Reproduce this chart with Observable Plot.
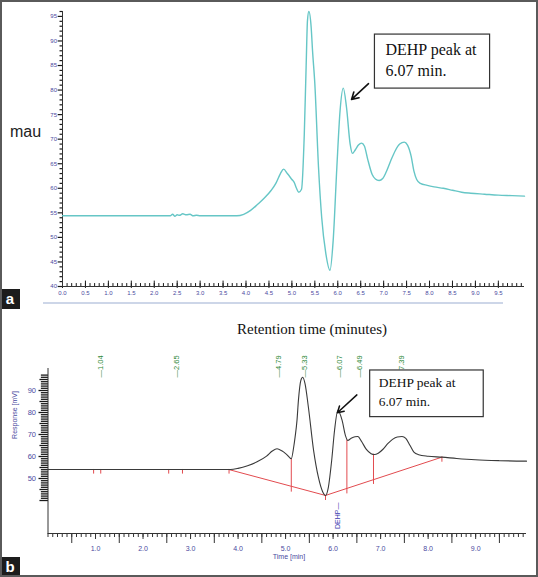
<!DOCTYPE html>
<html><head><meta charset="utf-8">
<script src="https://cdn.jsdelivr.net/npm/d3@7"></script>
<script src="https://cdn.jsdelivr.net/npm/@observablehq/plot@0.6"></script>
<style>
body{margin:0;background:#fff;}
#fig{position:relative;width:538px;height:577px;overflow:hidden;background:#fff;font-family:"Liberation Sans",Arial,sans-serif;}
#fig svg{position:absolute;left:0;}
.abs{position:absolute;white-space:nowrap;}
.tag{position:absolute;left:0;width:20px;height:20px;background:#1c1c1c;color:#fff;font:bold 15px "Liberation Sans",Arial,sans-serif;text-align:center;line-height:19px;}
</style></head><body>
<div id="fig"></div>
<script>
// ---------- Panel a (UV detector, mAU) ----------
const aTime = [0, 2.35, 2.4, 2.45, 2.5, 2.55, 2.62, 2.7, 2.78, 2.85, 2.92, 3.0, 3.8, 3.95, 4.1, 4.25, 4.4, 4.55, 4.65, 4.75, 4.82, 4.9, 5.0, 5.05, 5.1, 5.15, 5.21, 5.27, 5.31, 5.34, 5.37, 5.42, 5.45, 5.50, 5.58, 5.65, 5.74, 5.83, 5.90, 5.98, 6.05, 6.12, 6.19, 6.27, 6.32, 6.38, 6.45, 6.52, 6.58, 6.65, 6.75, 6.82, 6.9, 6.98, 7.05, 7.15, 7.25, 7.35, 7.45, 7.52, 7.6, 7.66, 7.72, 7.8, 7.95, 8.1, 8.3, 8.5, 8.7, 8.9, 9.2, 9.5, 9.8, 10.07];
const aMau = [54.4, 54.4, 54.7, 54.3, 54.6, 54.5, 54.8, 54.6, 54.7, 54.4, 54.5, 54.4, 54.4, 54.7, 55.5, 56.7, 58.0, 59.6, 61.0, 63.0, 63.9, 63.0, 61.8, 61.2, 60.0, 59.2, 59.8, 71, 84.7, 94.2, 96.0, 92.8, 88, 81.3, 64.3, 54, 46.7, 43.3, 49.4, 64.3, 75.8, 80.4, 76.5, 69, 67.1, 67.8, 68.8, 69.2, 68.6, 66.0, 62.8, 61.9, 61.6, 62.0, 63.2, 65.5, 67.6, 69.0, 69.4, 68.8, 66.5, 63.5, 61.8, 61.0, 60.6, 60.3, 60.0, 59.6, 59.2, 59.0, 58.8, 58.6, 58.5, 58.4];
const aXTicks = [0, 0.5, 1, 1.5, 2, 2.5, 3, 3.5, 4, 4.5, 5, 5.5, 6, 6.5, 7, 7.5, 8, 8.5, 9, 9.5];
const aYTicks = [40, 45, 50, 55, 60, 65, 70, 75, 80, 85, 90, 95];
const aNoteBox = [{x1: 6.81, x2: 9.32, y1: 80.3, y2: 91.3}];
const aNoteLines = ["DEHP peak at", "6.07 min."];
const aNoteX = [7.04, 7.04];
const aNoteY = [88.1, 84.0];
const aArrow = [{x1: 6.67, y1: 81.3, x2: 6.30, y2: 78.1}];

// ---------- Panel b (integrated chromatogram, mV) ----------
const bTime = [0, 3.84, 4.0, 4.2, 4.4, 4.6, 4.72, 4.82, 4.92, 5.02, 5.12, 5.17, 5.20, 5.24, 5.27, 5.32, 5.36, 5.41, 5.48, 5.59, 5.69, 5.78, 5.84, 5.90, 5.97, 6.03, 6.10, 6.19, 6.26, 6.31, 6.38, 6.46, 6.52, 6.6, 6.7, 6.8, 6.87, 6.95, 7.05, 7.15, 7.25, 7.35, 7.45, 7.53, 7.62, 7.7, 7.8, 8.0, 8.29, 8.6, 8.99, 9.5, 10.07];
const bResp = [54.1, 54.1, 54.6, 55.8, 57.6, 60.2, 62.5, 63.5, 62.6, 61.0, 59.0, 64.2, 68.8, 76.4, 85.5, 94.5, 96.0, 93.0, 82.4, 62.7, 50.6, 44.0, 42.3, 46.0, 58.2, 71.8, 80.9, 76.4, 69.5, 67.3, 68.3, 69.0, 69.1, 66.8, 63.2, 61.3, 60.9, 61.5, 63.3, 65.8, 67.8, 68.9, 69.1, 68.2, 65.0, 62.0, 60.8, 60.1, 59.7, 59.1, 58.5, 58.1, 57.9];
const bRetention = [1.04, 2.65, 4.79, 5.33, 6.07, 6.49, 7.39];
const bBaseTime = [3.80, 5.84, 8.29];
const bBaseResp = [54.1, 42.3, 59.7];
const bDropTime = [5.12, 6.29, 6.85, 5.84, 8.29];
const bDropTop = [59.0, 67.5, 61.0, 42.3, 59.7];
const bDropBottom = [43.8, 43.0, 47.3, 40.0, 57.4];
const bMarkTime = [0.96, 1.11, 2.54, 2.83, 3.81];
const bXTicks = [1, 2, 3, 4, 5, 6, 7, 8, 9];
const bYTicks = [50, 60, 70, 80, 90];
const bNoteBox = [{x1: 6.78, x2: 9.17, y1: 77.9, y2: 99.1}];
const bNoteLines = ["DEHP peak at", "6.07 min."];
const bNoteX = [6.96, 6.96];
const bNoteY = [93.5, 85.1];
const bArrow = [{x1: 6.50, y1: 88.0, x2: 6.09, y2: 79.9}];
const bCompound = [{t: 6.09, v: 39.1, name: "DEHP—"}];

const fig = document.getElementById("fig");
const blue = "#4a4aa0";
const serif = "'Liberation Serif','Times New Roman',serif";

// tick helper rows: value + left end (in minutes, left of the y axis)
const aYMinor = d3.range(40, 96.5, 1).map(v => ({v, x1: aYTicks.includes(v) ? -0.105 : -0.065}));
const bYMinor = d3.range(40, 98, 1).map(v => ({v, x1: bYTicks.includes(v) ? -0.2 : (v % 5 === 0 ? -0.18 : -0.15)}));

const aData = aTime.map((t, i) => ({t, v: aMau[i]}));
const plotA = Plot.plot({
  width: 538, height: 300,
  marginLeft: 62, marginRight: 14, marginTop: 11, marginBottom: 14,
  x: {domain: [0, 10.07]}, y: {domain: [40, 96]},
  style: {fontFamily: "'Liberation Sans',Arial,sans-serif", background: "transparent"},
  marks: [
    Plot.link(aYMinor, {x1: "x1", x2: () => 0, y1: "v", y2: "v", stroke: "#1a1a1a", strokeWidth: 1.2}),
    Plot.axisY({ticks: aYTicks, tickSize: 0, tickPadding: 5.5, fill: blue, fontSize: 6, label: null}),
    Plot.ruleX(d3.range(0, 10.05, 0.1), {y1: 40, y2: 40.6, stroke: "#1a1a1a"}),
    Plot.ruleX(aXTicks, {y1: 39.6, y2: 41.1, stroke: "#1a1a1a"}),
    Plot.axisX({ticks: aXTicks, tickSize: 0, tickPadding: 4, fill: blue, fontSize: 6, tickFormat: d => d.toFixed(1), label: null}),
    Plot.ruleY([40], {stroke: "#333"}),
    Plot.ruleX([0], {stroke: "#333"}),
    Plot.line(aData, {x: "t", y: "v", stroke: "#66c6c6", strokeWidth: 1.4, curve: "monotone-x"}),
    Plot.rect(aNoteBox, {x1: "x1", x2: "x2", y1: "y1", y2: "y2", fill: "white", stroke: "#333", strokeWidth: 1.2}),
    Plot.text(aNoteLines, {x: (d, i) => aNoteX[i], y: (d, i) => aNoteY[i], text: d => d, textAnchor: "start", fontSize: 16, fontFamily: serif, fill: "#111"}),
    Plot.arrow(aArrow, {x1: "x1", y1: "y1", x2: "x2", y2: "y2", stroke: "#111", strokeWidth: 1.6, headLength: 8})
  ]
});
plotA.style.top = "0px";
fig.appendChild(plotA);

const bData = bTime.map((t, i) => ({t, v: bResp[i]}));
const bBase = bBaseTime.map((t, i) => ({t, v: bBaseResp[i]}));
const bDrops = bDropTime.map((t, i) => ({t, top: bDropTop[i], bottom: bDropBottom[i]}));
const red = "#e24b4f";
const plotB = Plot.plot({
  width: 538, height: 277,
  marginLeft: 47.5, marginRight: 12, marginTop: 68, marginBottom: 44,
  x: {domain: [0, 10.07]}, y: {domain: [25, 100]},
  style: {fontFamily: "'Liberation Sans',Arial,sans-serif", background: "transparent"},
  marks: [
    Plot.link(bYMinor, {x1: "x1", x2: () => 0, y1: "v", y2: "v", stroke: "#1a1a1a", strokeWidth: 1.3}),
    Plot.axisY({ticks: bYTicks, tickSize: 0, tickPadding: 12, fill: blue, fontSize: 7.5, label: null}),
    Plot.axisX({ticks: d3.range(0, 10.05, 0.1), tickSize: 4, fill: "none", stroke: "#333", label: null}),
    Plot.axisX({ticks: d3.range(0.5, 10, 1), tickSize: 10, fill: "none", stroke: "#333", label: null}),
    Plot.axisX({ticks: bXTicks, tickSize: 6, tickPadding: 7, fill: blue, stroke: "#333", fontSize: 7, tickFormat: d => d.toFixed(1), label: null}),
    Plot.ruleX([0], {stroke: "#333"}),
    Plot.ruleY([25], {stroke: "#333"}),
    Plot.text(["Response [mV]"], {frameAnchor: "left", y: 68, dx: -33, rotate: -90, fill: blue, fontSize: 7}),
    Plot.text(["Time [min]"], {x: 4.73, frameAnchor: "bottom", dy: 25, textAnchor: "start", fill: blue, fontSize: 7}),
    Plot.text(bRetention, {x: d => d, frameAnchor: "top", dy: 9, rotate: -90, textAnchor: "start", text: d => "—" + d.toFixed(2), fill: "#2f8a3a", fontSize: 7.5}),
    Plot.line(bBase, {x: "t", y: "v", stroke: red, strokeWidth: 1}),
    Plot.ruleX(bDrops, {x: "t", y1: "bottom", y2: "top", stroke: red, strokeWidth: 1}),
    Plot.ruleX(bMarkTime, {y1: 52, y2: 54.1, stroke: red, strokeWidth: 1}),
    Plot.line(bData, {x: "t", y: "v", stroke: "#3a3a3a", strokeWidth: 1.1, curve: "monotone-x"}),
    Plot.text(bCompound, {x: "t", y: "v", text: "name", rotate: -90, textAnchor: "end", fill: "#3a3ab0", fontSize: 7}),
    Plot.rect(bNoteBox, {x1: "x1", x2: "x2", y1: "y1", y2: "y2", fill: "white", stroke: "#333", strokeWidth: 1.2}),
    Plot.text(bNoteLines, {x: (d, i) => bNoteX[i], y: (d, i) => bNoteY[i], text: d => d, textAnchor: "start", fontSize: 13.5, fontFamily: serif, fill: "#111"}),
    Plot.arrow(bArrow, {x1: "x1", y1: "y1", x2: "x2", y2: "y2", stroke: "#111", strokeWidth: 1.5, headLength: 7})
  ]
});
plotB.style.top = "300px";
fig.appendChild(plotB);

function addDiv(html, css, cls) {
  const d = document.createElement("div");
  d.className = cls || "abs";
  d.innerHTML = html;
  Object.assign(d.style, css);
  fig.appendChild(d);
  return d;
}
addDiv("mau", {left: "10px", top: "124px", fontSize: "16px", lineHeight: "16px", color: "#222", fontFamily: "'Liberation Sans',Arial,sans-serif"});
addDiv("", {left: "43px", top: "302px", width: "460px", height: "2px", background: "#cdd6e8"});
addDiv("Retention time (minutes)", {left: "237px", top: "322px", fontSize: "15px", lineHeight: "15px", color: "#111", fontFamily: serif});
addDiv("a", {top: "289px"}, "tag");
addDiv("b", {top: "557px"}, "tag");
addDiv("", {left: "0px", top: "0px", width: "538px", height: "577px", boxSizing: "border-box", border: "2px solid #5a5a5a"});
</script>
</body></html>
